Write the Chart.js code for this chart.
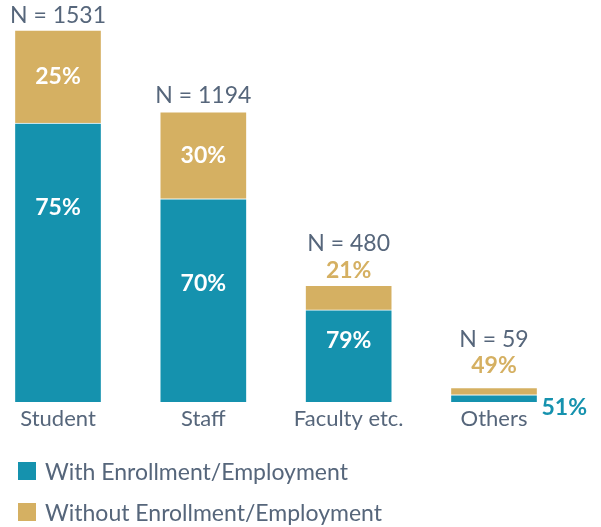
<!DOCTYPE html>
<html>
<head>
<meta charset="utf-8">
<script src="https://cdn.jsdelivr.net/npm/chart.js@4.4.1/dist/chart.umd.min.js"></script>
<style>
  html, body { margin: 0; padding: 0; background: #fff; }
  #wrap { position: relative; width: 601px; height: 527px; }
  #legend { position: absolute; left: 18px; top: 450px; font-family: Lato, sans-serif; font-size: 23px; color: #56667b; }
  #legend div { display: flex; align-items: center; height: 41px; }
  #legend span.box { display: inline-block; width: 18px; height: 18px; margin-right: 9px; }
</style>
</head>
<body>
<div id="wrap">
  <canvas id="chart" width="601" height="527"></canvas>
  <div id="legend"></div>
</div>
<script>
const categories = ["Student", "Staff", "Faculty etc.", "Others"];
const withCounts = [1148, 836, 379, 30];
const withoutCounts = [383, 358, 101, 29];
const seriesNames = ["With Enrollment/Employment", "Without Enrollment/Employment"];

const TEAL = "#1592ae";
const GOLD = "#d5b062";
const SLATE = "#56667b";

// label placement per category (pixels relative to segment / bar)
const withLabelDy = [85, 85, 31, null];
const withoutInside = [true, true, false, false];
const nLabelGap = [14, 16, 42, 48];

const totals = withCounts.map((v, i) => v + withoutCounts[i]);

const labelPlugin = {
  id: "labels",
  afterDatasetsDraw(chart) {
    const ctx = chart.ctx;
    const withMeta = chart.getDatasetMeta(0).data;
    const withoutMeta = chart.getDatasetMeta(1).data;
    ctx.save();
    ctx.textAlign = "center";
    ctx.textBaseline = "middle";
    categories.forEach((c, i) => {
      const wEl = withMeta[i], oEl = withoutMeta[i];
      const x = wEl.x;
      const top = oEl.y;
      const pctWith = Math.round(withCounts[i] / totals[i] * 100) + "%";
      const pctWithout = Math.round(withoutCounts[i] / totals[i] * 100) + "%";

      ctx.font = "23px Lato, sans-serif";
      ctx.fillStyle = SLATE;
      ctx.fillText("N = " + totals[i], x, top - nLabelGap[i]);

      ctx.font = "bold 23px Lato, sans-serif";
      if (withoutInside[i]) {
        ctx.fillStyle = "#fff";
        ctx.fillText(pctWithout, x, (oEl.y + oEl.base) / 2);
      } else {
        ctx.fillStyle = GOLD;
        ctx.fillText(pctWithout, x, top - (i === 3 ? 22 : 15));
      }
      if (withLabelDy[i] !== null) {
        ctx.fillStyle = "#fff";
        ctx.fillText(pctWith, x, wEl.y + withLabelDy[i]);
      } else {
        ctx.fillStyle = TEAL;
        ctx.textAlign = "left";
        ctx.fillText(pctWith, x + wEl.width / 2 + 4, wEl.base + 6);
        ctx.textAlign = "center";
      }
    });
    ctx.restore();
  }
};

new Chart(document.getElementById("chart"), {
  type: "bar",
  data: {
    labels: categories,
    datasets: [
      { label: seriesNames[0], data: withCounts, backgroundColor: TEAL },
      { label: seriesNames[1], data: withoutCounts, backgroundColor: GOLD }
    ].map(d => Object.assign(d, {
      borderColor: "#fff", borderWidth: 1, barThickness: 87, clip: false
    }))
  },
  options: {
    responsive: false,
    animation: false,
    layout: { padding: { left: 58, right: 107, top: 30, bottom: 0 } },
    plugins: { legend: { display: false }, tooltip: { enabled: false } },
    scales: {
      x: {
        stacked: true,
        offset: false,
        grid: { display: false, drawTicks: false },
        border: { display: false },
        ticks: { color: SLATE, font: { family: "Lato, sans-serif", size: 22 }, padding: 4, maxRotation: 0, autoSkip: false },
        afterFit(scale) { scale.height = 125; }
      },
      y: {
        stacked: true,
        display: false,
        min: 0,
        max: totals[0]
      }
    }
  },
  plugins: [labelPlugin]
});

const legend = document.getElementById("legend");
[TEAL, GOLD].forEach((col, i) => {
  const row = document.createElement("div");
  row.innerHTML = '<span class="box" style="background:' + col + '"></span>' + seriesNames[i];
  legend.appendChild(row);
});
</script>
</body>
</html>
